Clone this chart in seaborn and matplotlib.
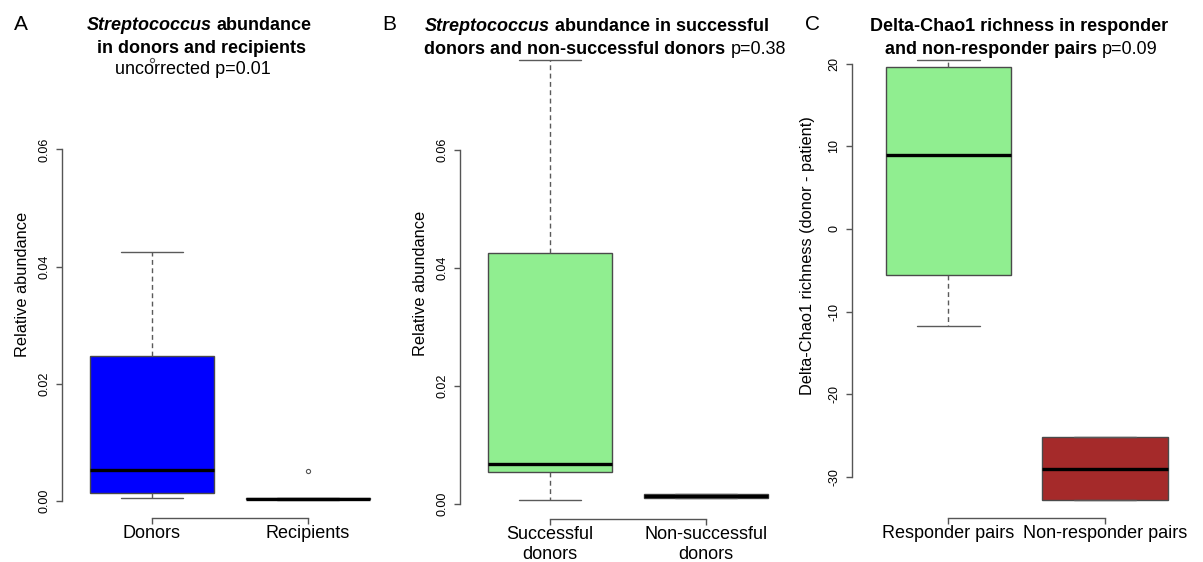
import matplotlib
matplotlib.use("Agg")
import matplotlib.pyplot as plt
import pandas as pd
import seaborn as sns

# panel A: Streptococcus in donors vs recipients
groups_a = ["Donors", "Recipients"]
donors = [0.00056, 0.0010, 0.0014, 0.0030, 0.0053, 0.0150, 0.0247, 0.0425, 0.0752]
recipients = [0.0001, 0.0003, 0.0003, 0.0004, 0.0005, 0.0005, 0.0052]
colors_a = ["#0000FF", "#0000FF"]
yticks_a = [0.00, 0.02, 0.04, 0.06]
yticklabels_a = ["0.00", "0.02", "0.04", "0.06"]

# panel B: successful vs non-successful donors
groups_b = ["Successful\ndonors", "Non-successful\ndonors"]
successful = [0.00054, 0.0053, 0.0067, 0.0425, 0.0752]
non_successful = [0.0010, 0.0010, 0.0013, 0.0017, 0.0017]
colors_b = ["#90EE90", "#A52A2A"]
yticks_b = [0.00, 0.02, 0.04, 0.06]
yticklabels_b = ["0.00", "0.02", "0.04", "0.06"]

# panel C: delta-Chao1 richness
groups_c = ["Responder pairs", "Non-responder pairs"]
responder = [-11.73, -5.54, 8.93, 19.56, 20.44]
non_responder = [-32.87, -32.87, -29.04, -25.23, -25.23]
colors_c = ["#90EE90", "#A52A2A"]
yticks_c = [-30, -20, -10, 0, 10, 20]
yticklabels_c = ["-30", "-20", "-10", "0", "10", "20"]

W, H = 1203, 562
EDGE = "#4a4a4a"
AXC = "#555555"

sns.set_theme(style="white")
plt.rcParams["font.family"] = ["Liberation Sans", "DejaVu Sans"]
plt.rcParams["axes.unicode_minus"] = False
plt.rcParams["text.color"] = "black"
plt.rcParams["axes.labelcolor"] = "black"
plt.rcParams["xtick.labelcolor"] = "black"
plt.rcParams["ytick.labelcolor"] = "black"

fig = plt.figure(figsize=(W / 100, H / 100), dpi=100)


def make_ax(left, right, bottom, top):
    # pixel box -> figure fraction
    return fig.add_axes([left / W, 1 - bottom / H, (right - left) / W, (bottom - top) / H])


def draw_panel(ax, names, values, colors, ylim, xlim, yticks, yticklabels, ylabel, ybound):
    df = pd.DataFrame({
        "group": [n for n, v in zip(names, values) for _ in v],
        "value": [x for v in values for x in v],
    })
    sns.boxplot(data=df, x="group", y="value", hue="group", order=names, hue_order=names,
                palette=colors, saturation=1, width=0.8, linewidth=1.0, linecolor=EDGE,
                legend=False, dodge=False,
                whiskerprops=dict(color="#5a5a5a", linestyle=(0, (3.5, 2.5))),
                capprops=dict(color="#5a5a5a"),
                medianprops=dict(color="black", linewidth=2.4),
                flierprops=dict(marker="o", markersize=3, markerfacecolor="none",
                                markeredgecolor="#555555", markeredgewidth=0.8),
                ax=ax)
    ax.set_xlim(*xlim)
    ax.set_ylim(*ylim)
    for s in ["top", "right"]:
        ax.spines[s].set_visible(False)
    for s in ["left", "bottom"]:
        ax.spines[s].set_color(AXC)
        ax.spines[s].set_linewidth(1.0)
    ax.spines["left"].set_bounds(*ybound)
    ax.spines["bottom"].set_bounds(0, 1)
    ax.set_yticks(yticks)
    ax.set_yticklabels(yticklabels, rotation=90, va="center", fontsize=9, color="black")
    ax.set_xticks([0, 1])
    ax.set_xticklabels(names, fontsize=13, color="black")
    for lbl in ax.get_xticklabels():
        lbl.set_linespacing(1.25)
    ax.tick_params(axis="y", left=True, length=4.5, width=1.0, color=AXC, pad=3.5)
    ax.tick_params(axis="x", bottom=True, length=4.5, width=1.0, color=AXC, pad=0.5)
    ax.set_xlabel("")
    ax.set_ylabel(ylabel, fontsize=11.8, color="black")
    ax.patch.set_alpha(0)


ax_a = make_ax(61.5, 398.5, 518.3, 45)
draw_panel(ax_a, groups_a, [donors, recipients], colors_a, (-0.00295, 0.0778), (-0.58, 1.58),
           yticks_a, yticklabels_a, "Relative abundance", (0, 0.06))
ax_a.yaxis.set_label_coords(-0.0935, 0.495)

ax_b = make_ax(459.5, 796.5, 518.9, 42.5)
draw_panel(ax_b, groups_b, [successful, non_successful], colors_b, (-0.0026, 0.0782), (-0.58, 1.58),
           yticks_b, yticklabels_b, "Relative abundance", (0, 0.06))
ax_b.yaxis.set_label_coords(-0.0935, 0.495)

ax_c = make_ax(851.6, 1195.8, 517.9, 42.7)
draw_panel(ax_c, groups_c, [responder, non_responder], colors_c, (-34.99, 22.56), (-0.619, 1.58),
           yticks_c, yticklabels_c, "Delta-Chao1 richness (donor - patient)", (-30, 20))
ax_c.yaxis.set_label_coords(-0.106, 0.552)


def title_line(cx, base, pieces, size=13):
    r = fig.canvas.get_renderer()
    arts = [fig.text(0, 1 - base / H, s, fontsize=size, fontweight=w, fontstyle=st,
                     ha="left", va="baseline", color="black") for s, w, st in pieces]
    p1 = fig.text(0, 0, "x x", fontsize=size, fontweight="bold")
    p2 = fig.text(0, 0, "xx", fontsize=size, fontweight="bold")
    gap = p1.get_window_extent(r).width - p2.get_window_extent(r).width
    p1.remove()
    p2.remove()
    widths = [a.get_window_extent(r).width for a in arts]
    x = cx - (sum(widths) + gap * (len(arts) - 1)) / 2
    for a, wd in zip(arts, widths):
        a.set_x(x / W)
        x += wd + gap


BI = ("bold", "italic")
B = ("bold", "normal")
N = ("normal", "normal")

title_line(199, 30, [("Streptococcus",) + BI, ("abundance",) + B])
title_line(201.7, 53, [("in donors and recipients",) + B])
title_line(193, 74, [("uncorrected p=0.01",) + N])

title_line(597, 31, [("Streptococcus",) + BI, ("abundance in successful",) + B])
title_line(605, 54, [("donors and non-successful donors",) + B, ("p=0.38",) + N])

title_line(1019, 31, [("Delta-Chao1 richness in responder",) + B])
title_line(1021, 54, [("and non-responder pairs",) + B, ("p=0.09",) + N])

for letter, x in [("A", 21), ("B", 389), ("C", 812)]:
    fig.text(x / W, 1 - 30 / H, letter, fontsize=15, ha="center", va="baseline", color="black")

fig.savefig("out.png", dpi=100)
